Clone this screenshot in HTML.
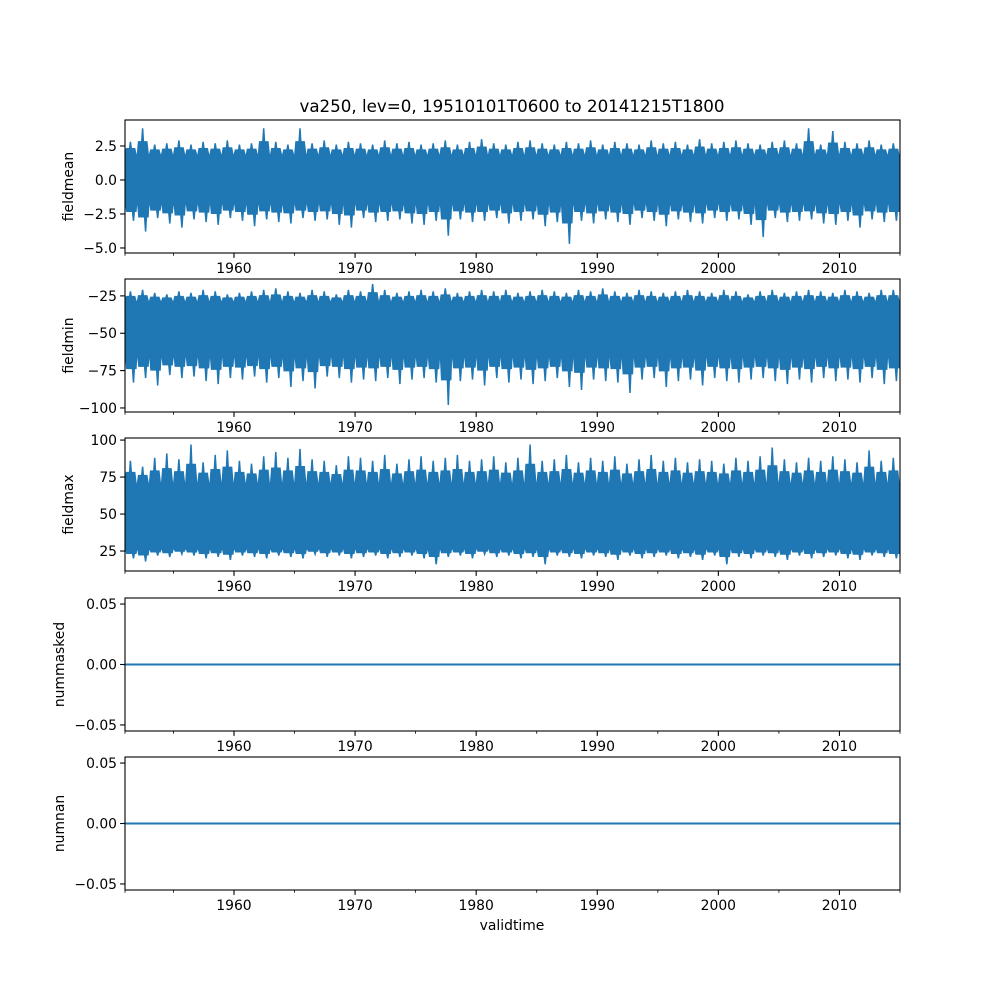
<!DOCTYPE html>
<html><head><meta charset="utf-8">
<style>
html,body{margin:0;padding:0;background:#fff;}
svg{display:block;font-family:"DejaVu Sans","Liberation Sans",sans-serif;}
</style></head>
<body>
<svg id="chart" width="1000" height="1000" viewBox="0 0 1000 1000">
<text x="512" y="112" font-size="16.7" text-anchor="middle">va250, lev=0, 19510101T0600 to 20141215T1800</text>
<text x="512" y="930" font-size="13.9" text-anchor="middle">validtime</text>
</svg>
<script>
// ---- data (yearly extremes, 1951..2014) ----
const years = Array.from({length:64},(_,i)=>1951+i);
const xTicks = [1960,1970,1980,1990,2000,2010];
const xMinorTicks = [1955,1965,1975,1985,1995,2005,2015];
const meanHi = [2.8,3.8,2.6,2.7,2.9,2.6,2.8,2.7,2.9,2.6,2.7,3.8,2.8,2.6,3.8,2.7,2.9,2.6,2.8,2.7,2.6,2.9,2.7,2.8,2.6,2.7,2.9,2.6,2.8,3.0,2.7,2.6,2.8,2.9,2.7,2.6,2.8,2.7,2.9,2.6,2.8,2.7,2.6,2.9,2.7,2.8,2.6,3.0,2.7,2.8,2.9,2.7,2.6,2.8,2.9,2.7,3.8,2.6,3.6,2.8,2.7,2.9,2.6,2.7];
const meanLo = [-3.0,-3.8,-2.8,-3.2,-3.5,-2.9,-3.1,-3.3,-2.8,-3.0,-3.4,-2.9,-3.1,-3.2,-2.8,-3.0,-2.9,-3.3,-3.5,-2.8,-3.1,-3.0,-2.9,-3.2,-3.3,-3.0,-4.1,-2.9,-3.1,-3.0,-2.8,-3.2,-3.0,-2.9,-3.4,-3.1,-4.7,-3.0,-3.2,-2.9,-3.1,-3.3,-2.8,-3.0,-3.4,-2.9,-3.1,-3.2,-2.8,-3.0,-2.9,-3.3,-4.2,-2.8,-3.1,-3.0,-2.9,-3.2,-3.3,-3.0,-3.5,-2.9,-3.1,-3.0];
const meanCore = [-1.6,1.8];
const minHi = [-22,-21,-23,-24,-22,-23,-21,-22,-24,-23,-22,-21,-20,-22,-23,-21,-22,-24,-21,-22,-17,-21,-23,-22,-21,-22,-20,-23,-22,-21,-22,-21,-23,-22,-21,-22,-23,-21,-22,-20,-22,-23,-21,-22,-23,-22,-21,-22,-23,-21,-22,-24,-22,-21,-23,-22,-21,-22,-23,-21,-22,-23,-21,-21];
const minLo = [-83,-80,-85,-78,-80,-79,-82,-84,-80,-81,-79,-83,-80,-86,-82,-87,-79,-80,-83,-81,-82,-80,-84,-81,-80,-83,-98,-82,-81,-85,-80,-83,-81,-84,-82,-80,-86,-88,-81,-82,-83,-90,-81,-80,-86,-82,-81,-85,-80,-82,-83,-81,-80,-82,-84,-81,-83,-80,-82,-81,-83,-80,-84,-82];
const minCore = [-64,-29];
const maxHi = [86,82,88,91,87,97,85,90,93,86,84,89,92,88,94,87,86,83,89,88,86,90,84,87,89,86,88,90,86,87,89,85,88,97,86,87,90,85,88,86,89,84,87,90,86,88,85,87,86,84,88,86,89,95,87,85,88,86,89,87,85,93,86,88];
const maxLo = [20,18,22,21,23,22,20,21,19,22,21,20,22,21,20,23,21,22,20,21,22,20,21,22,20,16,21,22,20,23,21,22,20,21,16,22,21,20,22,21,19,22,20,21,22,20,21,19,22,16,21,20,22,21,19,22,20,21,22,20,19,22,21,20];
const maxCore = [27,70];
const zeroSeries = [0,0];

const yTicks1 = [2.5,0.0,-2.5,-5.0];
const yTicks2 = [-25,-50,-75,-100];
const yTicks3 = [100,75,50,25];
const yTicks45 = [0.05,0.00,-0.05];

const svg = document.getElementById('chart');
const NS='http://www.w3.org/2000/svg';
const X0=125, X1=900, XMIN=1951, XMAX=2015;
const xs = v => X0 + (v-XMIN)/(XMAX-XMIN)*(X1-X0);
const BLUE='#1f77b4';

function mk(tag, attrs, parent){const e=document.createElementNS(NS,tag);for(const k in attrs)e.setAttribute(k,attrs[k]);(parent||svg).appendChild(e);return e;}

const panels = [
 {name:'fieldmean', top:120, bot:253, ymin:-5.37, ymax:4.41, ticks:yTicks1, fmt:v=>v.toFixed(1), hi:meanHi, lo:meanLo, core:meanCore},
 {name:'fieldmin', top:279, bot:412, ymin:-102.7, ymax:-13.7, ticks:yTicks2, fmt:v=>String(v), hi:minHi, lo:minLo, core:minCore},
 {name:'fieldmax', top:438, bot:571, ymin:11.5, ymax:101.4, ticks:yTicks3, fmt:v=>String(v), hi:maxHi, lo:maxLo, core:maxCore},
 {name:'nummasked', top:598, bot:731, ymin:-0.055, ymax:0.055, ticks:yTicks45, fmt:v=>v.toFixed(2), flat:zeroSeries},
 {name:'numnan', top:757, bot:890, ymin:-0.055, ymax:0.055, ticks:yTicks45, fmt:v=>v.toFixed(2), flat:zeroSeries},
];

panels.forEach(p=>{
  const ys = v => p.bot - (v-p.ymin)/(p.ymax-p.ymin)*(p.bot-p.top);
  const g = mk('g',{});
  
  
  const clipId='clip-'+p.name;
  const cp=mk('clipPath',{id:clipId},g); mk('rect',{x:X0,y:p.top,width:X1-X0,height:p.bot-p.top},cp);
  const plot=mk('g',{'clip-path':'url(#'+clipId+')'},g);
  if(p.flat){
    const ln=mk('line',{x1:X0,x2:X1,y1:ys(p.flat[0]),y2:ys(p.flat[1]),stroke:BLUE,'stroke-width':2},plot);
    
    
  } else {
    // envelope polygon: upper edge with a shoulder and spike per year, lower edge likewise
    const up=[], dn=[];
    years.forEach((yr,i)=>{
      const shU = p.core[1] + 0.5*(p.hi[i]-p.core[1]);
      const shD = p.core[0] + 0.5*(p.lo[i]-p.core[0]);
      up.push([xs(yr+0.02),ys(p.core[1])],[xs(yr+0.12),ys(shU)],[xs(yr+0.38),ys(shU)],[xs(yr+0.45),ys(p.hi[i])],[xs(yr+0.52),ys(shU)],[xs(yr+0.8),ys(shU)],[xs(yr+0.92),ys(p.core[1])]);
      dn.push([xs(yr+0.05),ys(p.core[0])],[xs(yr+0.15),ys(shD)],[xs(yr+0.62),ys(shD)],[xs(yr+0.7),ys(p.lo[i])],[xs(yr+0.77),ys(shD)],[xs(yr+0.9),ys(shD)],[xs(yr+0.97),ys(p.core[0])]);
    });
    const pts=up.concat(dn.reverse()).map(q=>q[0].toFixed(1)+','+q[1].toFixed(1)).join(' ');
    const pl=mk('polygon',{points:pts,fill:BLUE,stroke:BLUE,'stroke-width':1.5,'stroke-linejoin':'miter'},plot);
    
    
  }
  const fr=mk('rect',{x:X0,y:p.top,width:X1-X0,height:p.bot-p.top,fill:'none',stroke:'#000','stroke-width':1.1},g);
  
  
  p.ticks.forEach(t=>{
    const y=ys(t);
    mk('line',{x1:X0-4.9,x2:X0,y1:y,y2:y,stroke:'#000','stroke-width':1.1},g);
    const tx=mk('text',{x:X0-8,y:y+5,'font-size':13.9,'text-anchor':'end'},g);
    tx.textContent=p.fmt(t).replace('-','\u2212');
    
    
  });
  xTicks.forEach(t=>{
    const x=xs(t);
    mk('line',{x1:x,x2:x,y1:p.bot,y2:p.bot+4.9,stroke:'#000','stroke-width':1.1},g);
    const tx=mk('text',{x:x,y:p.bot+20,'font-size':13.9,'text-anchor':'middle'},g);
    tx.textContent=String(t);
    
    
  });
  xMinorTicks.forEach(t=>{
    const x=xs(t);
    mk('line',{x1:x,x2:x,y1:p.bot,y2:p.bot+2.8,stroke:'#000','stroke-width':0.8},g);
  });
  mk('line',{x1:X0,x2:X0,y1:p.bot,y2:p.bot+2.8,stroke:'#000','stroke-width':0.8},g);
  const cy=(p.top+p.bot)/2;
  const lab=mk('text',{x:0,y:0,'font-size':13.9,'text-anchor':'middle',transform:'translate('+(p.name.startsWith('num')?64:73)+','+cy+') rotate(-90)'},g);
  lab.textContent=p.name;
  
  
});
</script>
</body></html>
